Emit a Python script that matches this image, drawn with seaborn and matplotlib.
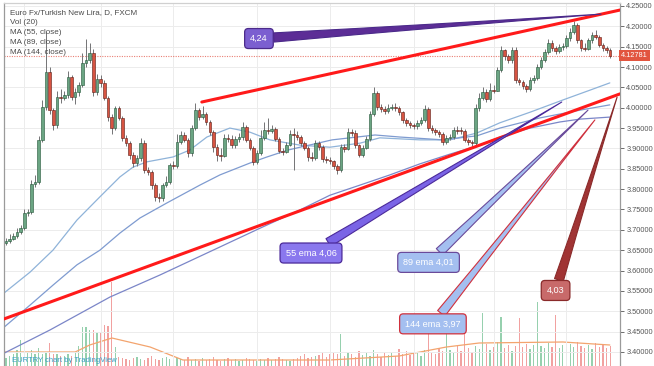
import numpy as np
import pandas as pd
import matplotlib
matplotlib.use("Agg")
import matplotlib.pyplot as plt
import matplotlib.transforms as mtransforms
import seaborn as sns

# daily EUR/TRY candles (open of each bar = previous close)
first_open = 3.668
closes = [
    3.673, 3.678, 3.685, 3.695, 3.705, 3.741, 3.744, 3.813, 3.817, 3.921,
    4.002, 4.088, 3.994, 3.958, 4.026, 4.024, 4.031, 4.075, 4.026, 4.039,
    4.056, 4.110, 4.117, 4.134, 4.039, 4.071, 4.061, 4.024, 3.977, 3.950,
    3.999, 3.975, 3.926, 3.913, 3.884, 3.864, 3.877, 3.913, 3.847, 3.842,
    3.810, 3.781, 3.778, 3.810, 3.817, 3.859, 3.857, 3.916, 3.933, 3.921,
    3.889, 3.950, 3.994, 3.977, 3.985, 3.965, 3.940, 3.903, 3.884, 3.882,
    3.926, 3.924, 3.908, 3.923, 3.928, 3.953, 3.921, 3.901, 3.867, 3.889,
    3.926, 3.945, 3.943, 3.948, 3.923, 3.894, 3.892, 3.908, 3.935, 3.933,
    3.928, 3.913, 3.901, 3.879, 3.877, 3.913, 3.903, 3.874, 3.872, 3.869,
    3.857, 3.847, 3.903, 3.899, 3.940, 3.938, 3.908, 3.884, 3.901, 3.923,
    3.985, 4.036, 4.002, 3.997, 3.992, 3.999, 4.002, 3.999, 3.989, 3.970,
    3.963, 3.958, 3.955, 3.963, 3.970, 3.997, 3.950, 3.945, 3.940, 3.935,
    3.916, 3.926, 3.928, 3.945, 3.944, 3.943, 3.921, 3.916, 3.913, 3.999,
    4.024, 4.039, 4.021, 4.044, 4.042, 4.093, 4.142, 4.127, 4.117, 4.142,
    4.068, 4.063, 4.053, 4.046, 4.068, 4.073, 4.100, 4.117, 4.137, 4.159,
    4.147, 4.139, 4.149, 4.152, 4.171, 4.186, 4.203, 4.166, 4.147, 4.145,
    4.166, 4.178, 4.174, 4.154, 4.147, 4.142, 4.12781,
]
highs = [
    3.680, 3.690, 3.692, 3.705, 3.712, 3.750, 3.752, 3.822, 3.835, 3.930,
    4.020, 4.185, 4.100, 4.000, 4.040, 4.045, 4.040, 4.090, 4.080, 4.048,
    4.062, 4.135, 4.170, 4.160, 4.145, 4.082, 4.080, 4.068, 4.030, 3.985,
    4.005, 4.004, 3.980, 3.932, 3.918, 3.890, 3.885, 3.925, 3.920, 3.855,
    3.848, 3.815, 3.790, 3.815, 3.832, 3.864, 3.868, 3.935, 3.942, 3.940,
    3.925, 3.958, 4.012, 4.000, 4.005, 3.990, 3.970, 3.945, 3.910, 3.900,
    3.935, 3.935, 3.932, 3.930, 3.938, 3.965, 3.958, 3.925, 3.905, 3.895,
    3.945, 3.965, 3.975, 3.958, 3.952, 3.928, 3.902, 3.915, 3.945, 3.950,
    3.942, 3.932, 3.918, 3.906, 3.890, 3.920, 3.918, 3.908, 3.882, 3.878,
    3.872, 3.862, 3.910, 3.910, 3.950, 3.948, 3.945, 3.912, 3.908, 3.930,
    3.992, 4.050, 4.040, 4.008, 4.003, 4.008, 4.010, 4.012, 4.004, 3.992,
    3.975, 3.968, 3.962, 3.970, 3.978, 4.006, 4.002, 3.958, 3.950, 3.945,
    3.940, 3.932, 3.935, 3.952, 3.955, 3.952, 3.948, 3.925, 3.920, 4.008,
    4.035, 4.050, 4.045, 4.060, 4.056, 4.100, 4.152, 4.145, 4.132, 4.150,
    4.148, 4.072, 4.068, 4.058, 4.075, 4.080, 4.108, 4.125, 4.145, 4.168,
    4.166, 4.152, 4.156, 4.160, 4.178, 4.195, 4.212, 4.208, 4.170, 4.158,
    4.172, 4.185, 4.190, 4.178, 4.158, 4.152, 4.146,
]
lows = [
    3.662, 3.668, 3.675, 3.680, 3.690, 3.700, 3.735, 3.740, 3.805, 3.812,
    3.915, 3.995, 3.985, 3.945, 3.950, 4.012, 4.020, 4.025, 4.018, 4.010,
    4.030, 4.050, 4.100, 4.110, 4.030, 4.032, 4.052, 4.018, 3.968, 3.935,
    3.945, 3.970, 3.918, 3.905, 3.875, 3.855, 3.858, 3.870, 3.840, 3.835,
    3.800, 3.772, 3.768, 3.772, 3.805, 3.812, 3.850, 3.852, 3.910, 3.915,
    3.878, 3.882, 3.945, 3.970, 3.972, 3.958, 3.932, 3.890, 3.870, 3.868,
    3.880, 3.915, 3.900, 3.902, 3.915, 3.920, 3.915, 3.895, 3.860, 3.862,
    3.885, 3.920, 3.935, 3.938, 3.918, 3.888, 3.885, 3.888, 3.905, 3.848,
    3.920, 3.905, 3.895, 3.870, 3.870, 3.872, 3.895, 3.866, 3.865, 3.862,
    3.850, 3.838, 3.842, 3.892, 3.895, 3.930, 3.900, 3.878, 3.880, 3.898,
    3.918, 3.980, 3.995, 3.990, 3.985, 3.986, 3.994, 3.992, 3.982, 3.962,
    3.956, 3.950, 3.948, 3.948, 3.958, 3.965, 3.942, 3.938, 3.932, 3.928,
    3.908, 3.910, 3.920, 3.922, 3.935, 3.935, 3.915, 3.908, 3.905, 3.908,
    3.992, 4.018, 4.015, 4.016, 4.035, 4.040, 4.088, 4.118, 4.110, 4.110,
    4.060, 4.055, 4.045, 4.038, 4.040, 4.060, 4.068, 4.095, 4.112, 4.132,
    4.140, 4.132, 4.134, 4.142, 4.146, 4.165, 4.180, 4.160, 4.140, 4.140,
    4.142, 4.160, 4.168, 4.148, 4.140, 4.135, 4.122,
]
volumes = [
    8, 10, 12, 16, 26, 12, 14, 16, 12, 18,
    12, 14, 23, 12, 12, 10, 10, 12, 10, 14,
    20, 39, 39, 36, 36, 34, 33, 41, 40, 84,
    19, 9, 8, 7, 6, 8, 9, 7, 6, 8,
    10, 7, 6, 8, 9, 7, 6, 8, 7, 6,
    9, 6, 7, 5, 8, 6, 7, 9, 6, 5,
    7, 8, 6, 7, 5, 6, 8, 7, 6, 5,
    7, 6, 8, 6, 7, 9, 7, 6, 5, 7,
    8, 10, 12, 8, 9, 10, 11, 14, 9, 12,
    13, 12, 32, 10, 14, 12, 9, 15, 11, 13,
    10, 16, 12, 9, 14, 11, 13, 10, 17, 12,
    15, 11, 14, 13, 10, 16, 51, 14, 12, 18,
    15, 56, 16, 13, 20, 15, 34, 18, 14, 20,
    17, 53, 22, 16, 19, 24, 49, 18, 21, 15,
    20, 48, 19, 22, 17, 21, 64, 20, 18, 23,
    19, 51, 18, 21, 17, 22, 19, 24, 20, 18,
    21, 17, 23, 19, 22, 18, 20,
]

# moving averages (bar index, price)
ma55_idx = [-0.5, 6.6, 12.9, 19.5, 25.8, 31.3, 34.9, 38.7, 45.9, 50.5, 55.2, 61.5, 67.0,
            72.5, 80.8, 89.0, 97.3, 102.7, 113.7, 122.0, 129.4, 135.7, 144.0, 153.0, 160.4, 165.9]
ma55_val = [3.545, 3.596, 3.650, 3.724, 3.781, 3.830, 3.854, 3.867, 3.879, 3.896, 3.928, 3.950, 3.940,
            3.921, 3.908, 3.903, 3.913, 3.926, 3.921, 3.921, 3.938, 3.963, 3.989, 4.019, 4.043, 4.061]
ma89_idx = [-0.5, 6.6, 12.9, 19.5, 25.8, 31.3, 36.8, 44.2, 53.3, 58.8, 67.0, 71.7,
            77.5, 80.8, 89.6, 101.4, 108.2, 120.1, 129.4, 135.7, 146.7, 157.7, 165.9]
ma89_val = [3.461, 3.515, 3.564, 3.614, 3.650, 3.692, 3.729, 3.766, 3.810, 3.835, 3.864, 3.879,
            3.896, 3.903, 3.921, 3.933, 3.928, 3.921, 3.931, 3.950, 3.975, 3.994, 4.007]
ma144_idx = [-0.5, 12.1, 28.6, 42.3, 56.9, 69.8, 80.8, 89.0, 97.3, 105.5, 113.7,
             122.0, 129.4, 135.7, 144.0, 152.2, 157.7, 165.9]
ma144_val = [3.397, 3.454, 3.535, 3.589, 3.650, 3.704, 3.749, 3.785, 3.810, 3.835, 3.862,
             3.886, 3.906, 3.928, 3.950, 3.965, 3.972, 3.977]
volma_idx = [-0.5, 19.0, 23.0, 29.1, 39.6, 48.6, 89.0, 108.0, 121.0, 130.0, 153.0, 165.9]
volma_val = [14, 14, 21, 28, 19, 6, 6, 10, 19, 23, 24, 21]

price_ticks = [3.40, 3.45, 3.50, 3.55, 3.60, 3.65, 3.70, 3.75, 3.80, 3.85,
               3.90, 3.95, 4.00, 4.05, 4.10, 4.15, 4.20, 4.25]
month_lines = [5, 26, 46, 69, 89, 112, 134, 154]
last_price = 4.12781

upper_line_idx = [53.8, 168.7]
upper_line_val = [4.014, 4.240]
lower_line_idx = [-0.55, 168.7]
lower_line_val = [3.481, 4.034]

callout_text = ["4,24", "55 ema 4,06", "89 ema 4,01", "144 ema 3,97", "4,03"]
callout_target = [(163.5, 4.230), (152.7, 4.014), (159.9, 3.994), (161.8, 3.970), (167.9, 4.026)]
callout_box = [(69.5, 4.170), (83.8, 3.643), (116.1, 3.620), (117.3, 3.469), (151.0, 3.551)]
callout_face = ["#7b5fd0", "#8a78ee", "#a4bff0", "#a4bff0", "#c86a6a"]
callout_edge = ["#4b2a8a", "#4b2a9a", "#6a4a9a", "#d0303c", "#8a2a2a"]
callout_wedge = ["#5c2d96", "#7a64e6", "#a4bff0", "#a4bff0", "#a03434"]

UP, DOWN = "#6ba583", "#d75442"
UP_EDGE, DOWN_EDGE = "#225437", "#5b1a13"

df = pd.DataFrame({"close": closes, "high": highs, "low": lows, "volume": volumes})
df["open"] = [first_open] + closes[:-1]
df["idx"] = np.arange(len(df))
df["up"] = df["close"] >= df["open"]

sns.set_style("white")
plt.rcParams["font.family"] = ["Liberation Sans", "DejaVu Sans"]

W, H = 654, 366
fig = plt.figure(figsize=(W / 100, H / 100), dpi=100)
ax = fig.add_axes([4 / W, 0, 616 / W, 363 / H])
axv = ax.twinx()
ax.set_zorder(axv.get_zorder() + 1)
ax.patch.set_visible(False)

# volume pane
vcol = np.where(df["up"], "#7cc59a", "#ee8a88")
axv.bar(df["idx"], df["volume"], width=0.35, color=vcol, alpha=0.8, linewidth=0)
sns.lineplot(x=volma_idx, y=volma_val, ax=axv, color="#f3a46e", linewidth=0.9)
axv.set_ylim(0, 363)
axv.set_yticks([])
for s in axv.spines.values():
    s.set_visible(False)

# grid
for p in price_ticks:
    ax.axhline(p, color="#ececec", lw=0.7, zorder=0)
for m in month_lines:
    ax.axvline(m, color="#ececec", lw=0.7, zorder=0)

# moving averages
for xs, ys, c in [(ma55_idx, ma55_val, "#8fb3d9"), (ma89_idx, ma89_val, "#7f9bd0"),
                  (ma144_idx, ma144_val, "#7b86c8")]:
    sns.lineplot(x=xs, y=ys, ax=ax, color=c, linewidth=0.9, zorder=2)

# candles
ax.vlines(df["idx"], df["low"], df["high"], color="#737375", lw=0.7, zorder=3)
body = (df["close"] - df["open"]).abs().clip(lower=0.0015)
bottom = df[["open", "close"]].min(axis=1)
ax.bar(df["idx"], body, bottom=bottom, width=0.72,
       color=np.where(df["up"], UP, DOWN),
       edgecolor=np.where(df["up"], UP_EDGE, DOWN_EDGE), linewidth=0.4, zorder=4)

# last price line
ax.axhline(last_price, color="#e04a3a", lw=0.8, ls=(0, (1, 1.2)), alpha=0.7, zorder=2)

# trend channel
ax.plot(upper_line_idx, upper_line_val, color="#ff1a1a", lw=2.2, zorder=5, solid_capstyle="round")
ax.plot(lower_line_idx, lower_line_val, color="#ff1a1a", lw=2.2, zorder=5, solid_capstyle="round")

# callouts
for txt, tgt, box, fc, ec, wc in zip(callout_text, callout_target, callout_box,
                                     callout_face, callout_edge, callout_wedge):
    ax.annotate(txt, xy=tgt, xytext=box, ha="center", va="center", color="white",
                fontsize=6.6, zorder=7,
                bbox=dict(boxstyle="round,pad=0.6,rounding_size=0.4", fc=fc, ec=ec, lw=0.9),
                arrowprops=dict(arrowstyle="wedge,tail_width=1.0,shrink_factor=0.4",
                                fc=wc, ec=ec, lw=0.8, shrinkA=0, shrinkB=0))

ax.set_xlim(-0.55, 168.7)
ax.set_ylim(3.3654, 4.2573)
ax.set_xticks([])
ax.set_yticks(price_ticks)
ax.set_yticklabels([f"{p:.5f}" for p in price_ticks])
ax.tick_params(axis="y", left=False, labelleft=False, right=True, labelright=True,
               labelsize=5.3, colors="#555555", length=3, width=0.6, pad=1.5)
ax.set_xlabel("")
ax.set_ylabel("")
for name, s in ax.spines.items():
    s.set_visible(name in ("left", "right", "top"))
    s.set_color("#9a9a9a" if name != "top" else "#d0d0d0")
    s.set_linewidth(0.9)

trans = mtransforms.blended_transform_factory(ax.transAxes, ax.transData)
ax.text(1.002, last_price, "4.12781", transform=trans, ha="left", va="center",
        fontsize=5.3, color="white", clip_on=False, zorder=8,
        bbox=dict(boxstyle="square,pad=0.3", fc="#e2553f", ec="none"))

legend_lines = ["Euro Fx/Turkish New Lira, D, FXCM", "Vol (20)", "MA (55, close)",
                "MA (89, close)", "MA (144, close)"]
for i, t in enumerate(legend_lines):
    fig.text(10 / W, 1 - (13 + 10 * i) / H, t, fontsize=5.8, color="#4a4a4a",
             ha="left", va="center")
fig.text(12 / W, 1 - 361 / H, "EURTRY chart by TradingView", fontsize=5.5,
         color="#3aa0c8", ha="left", va="center")

fig.savefig("out.png", dpi=100)
